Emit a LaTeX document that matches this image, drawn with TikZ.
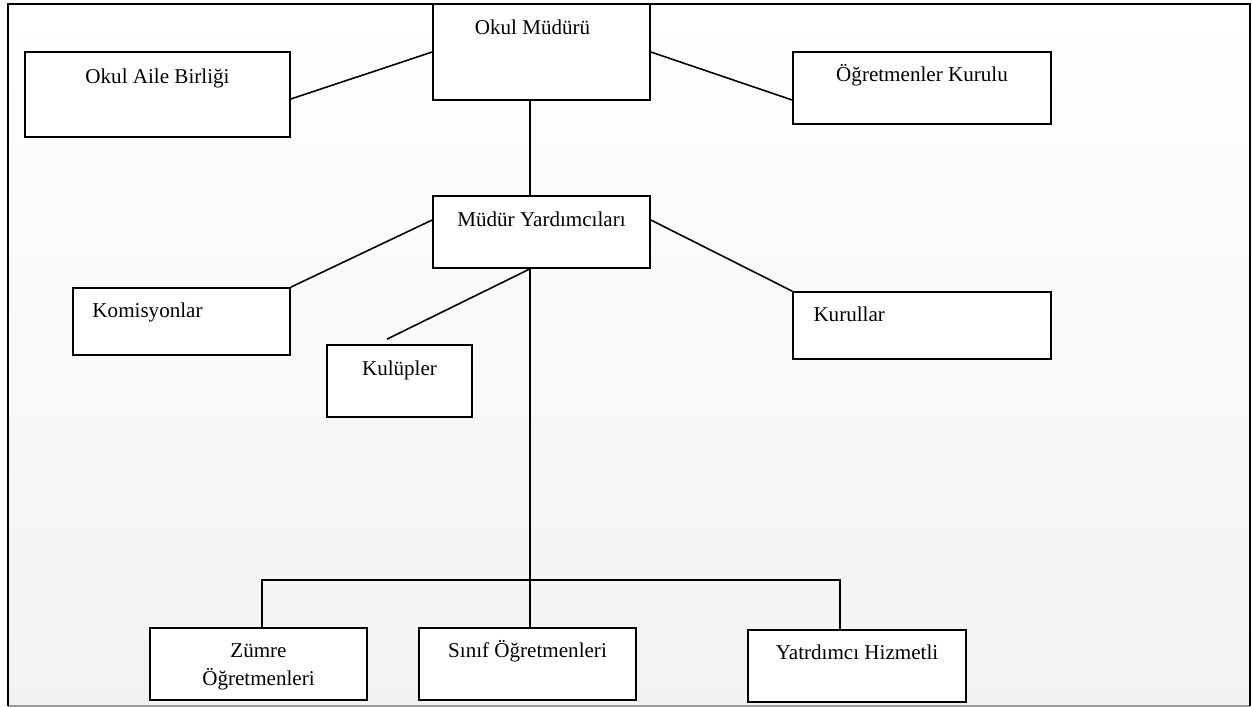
\documentclass[tikz,border=0pt]{standalone}
\usepackage{fontspec}
\setmainfont{Liberation Serif}
\usetikzlibrary{positioning}

\tikzset{
  box/.style={draw, line width=1pt, fill=white, inner sep=0pt},
  txt/.style={anchor=base, inner sep=0pt, font=\fontsize{12pt}{15.9pt}\selectfont},
  link/.style={line width=0.9pt}
}

\begin{document}
\begin{tikzpicture}[x=0.02cm, y=-0.02cm]
  \useasboundingbox (0,0) rectangle (1252,707);

  % Background and frame
  \shade[top color=white, bottom color=black!5] (8,4) rectangle (1250,706);
  \draw[black!40, line width=1pt] (8,706) -- (1250,706);
  \draw[line width=1.4pt] (8,706) -- (8,4) -- (1250,4) -- (1250,706);

  % Top level
  \node[box, minimum width=4.34cm, minimum height=1.92cm] (mudur) at (541.5,52) {};
  \node[txt, xshift=-0.18cm] (mudurT) at ([yshift=-18pt]mudur.north) {Okul Müdürü};

  \node[box, minimum width=5.3cm, minimum height=1.7cm] (aile) at (157.5,94.5) {};
  \node[txt] (aileT) at ([yshift=-18.5pt]aile.north) {Okul Aile Birliği};

  \node[box, minimum width=5.16cm, minimum height=1.44cm] (ogrkurul) at (922,88) {};
  \node[txt] (ogrkurulT) at ([yshift=-17.5pt]ogrkurul.north) {Öğretmenler Kurulu};

  % Middle level
  \node[box, minimum width=4.34cm, minimum height=1.44cm] (yard) at (541.5,232) {};
  \node[txt] (yardT) at ([yshift=-18pt]yard.north) {Müdür Yardımcıları};

  \node[box, minimum width=4.34cm, minimum height=1.34cm] (komis) at (181.5,321.5) {};
  \node[txt, anchor=base west] (komisT) at ([shift={(0.4cm,-17pt)}]komis.north west) {Komisyonlar};

  \node[box, minimum width=2.9cm, minimum height=1.44cm] (kulup) at (399.5,381) {};
  \node[txt] (kulupT) at ([yshift=-18pt]kulup.north) {Kulüpler};

  \node[box, minimum width=5.16cm, minimum height=1.34cm] (kurul) at (922,325.5) {};
  \node[txt, anchor=base west] (kurulT) at ([shift={(0.42cm,-17pt)}]kurul.north west) {Kurullar};

  % Bottom level
  \node[box, minimum width=4.34cm, minimum height=1.44cm] (zumre) at (258.5,664) {};
  \node[txt, align=center] (zumreT) at ([yshift=-33.4pt]zumre.north) {Zümre\\Öğretmenleri};

  \node[box, minimum width=4.34cm, minimum height=1.44cm] (sinif) at (527.5,664) {};
  \node[txt] (sinifT) at ([yshift=-17.5pt]sinif.north) {Sınıf Öğretmenleri};

  \node[box, minimum width=4.36cm, minimum height=1.44cm] (hizmet) at (857,666) {};
  \node[txt] (hizmetT) at ([yshift=-17pt]hizmet.north) {Yatrdımcı Hizmetli};

  % Connectors
  \draw[link] (mudur.west) -- ([yshift=-0.09cm]aile.east);
  \draw[link] (mudur.east) -- ([yshift=-0.24cm]ogrkurul.west);
  \draw[link] ([xshift=-0.23cm]mudur.south) -- ([xshift=-0.23cm]yard.north);
  \draw[link] ([yshift=0.24cm]yard.west) -- (komis.north east);
  \draw[link] ([yshift=0.24cm]yard.east) -- (kurul.north west);
  \draw[link] ([xshift=-0.23cm]yard.south) -- ([shift={(-0.25cm,0.1cm)}]kulup.north);
  \draw[link] ([xshift=-0.23cm]yard.south) -- ([xshift=-0.23cm]yard.south |- sinif.north);

  \coordinate (busL) at (262,580);
  \coordinate (busR) at (840,580);
  \draw[link] (zumre.north -| busL) -- (busL) -- (busR) -- (hizmet.north -| busR);
\end{tikzpicture}
\end{document}
